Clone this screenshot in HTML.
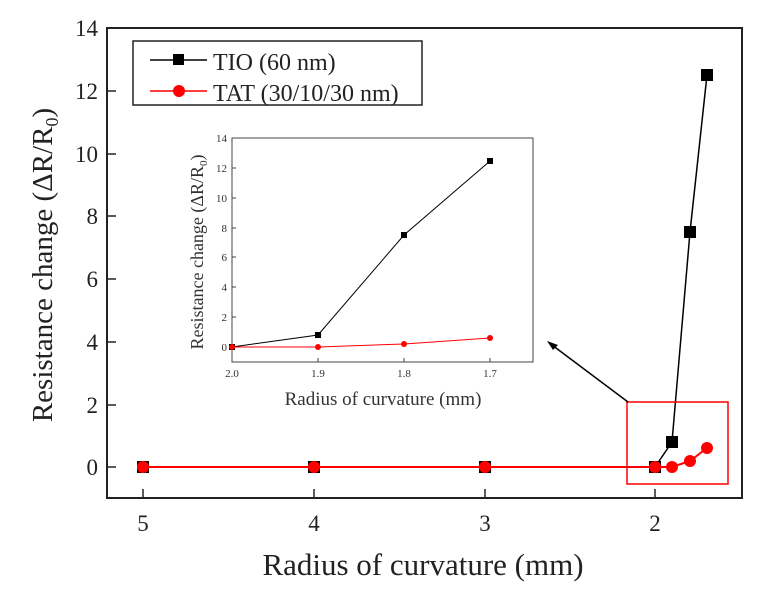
<!DOCTYPE html><html><head><style>body{margin:0;background:#fff}svg{display:block;font-family:"Liberation Serif",serif}</style></head><body>
<svg width="760" height="592" viewBox="0 0 760 592">
<rect width="760" height="592" fill="#fff"/>
<rect x="107" y="28" width="635" height="470" fill="none" stroke="#222" stroke-width="2"/>
<g stroke="#222" stroke-width="1.5">
<line x1="107" y1="28" x2="116" y2="28"/><line x1="107" y1="91" x2="116" y2="91"/><line x1="107" y1="154" x2="116" y2="154"/><line x1="107" y1="216" x2="116" y2="216"/><line x1="107" y1="279" x2="116" y2="279"/><line x1="107" y1="342" x2="116" y2="342"/><line x1="107" y1="405" x2="116" y2="405"/><line x1="107" y1="467" x2="116" y2="467"/>
<line x1="143" y1="498" x2="143" y2="489"/><line x1="314" y1="498" x2="314" y2="489"/><line x1="485" y1="498" x2="485" y2="489"/><line x1="655" y1="498" x2="655" y2="489"/>
</g>
<g font-size="23" text-anchor="end" fill="#222">
<text x="98" y="36">14</text><text x="98" y="99">12</text><text x="98" y="162">10</text><text x="98" y="224">8</text><text x="98" y="287">6</text><text x="98" y="350">4</text><text x="98" y="413">2</text><text x="98" y="475">0</text>
</g>
<g font-size="23" text-anchor="middle" fill="#222">
<text x="143" y="531">5</text><text x="314" y="531">4</text><text x="485" y="531">3</text><text x="655" y="531">2</text>
</g>
<text x="423" y="575" font-size="31" text-anchor="middle" fill="#222">Radius of curvature (mm)</text>
<text transform="translate(52,265) rotate(-90)" font-size="29" text-anchor="middle" fill="#222">Resistance change (ΔR/R<tspan font-size="18" dy="6">0</tspan><tspan dy="-6">)</tspan></text>
<polyline points="143,467 314,467 485,467 655,467 672,442 690,232 707,75" fill="none" stroke="#000" stroke-width="1.5"/>
<g fill="#000"><rect x="137" y="461" width="12" height="12"/><rect x="308" y="461" width="12" height="12"/><rect x="479" y="461" width="12" height="12"/><rect x="649" y="461" width="12" height="12"/><rect x="666" y="436" width="12" height="12"/><rect x="684" y="226" width="12" height="12"/><rect x="701" y="69" width="12" height="12"/></g>
<polyline points="143,467 314,467 485,467 655,467 672,467 690,461 707,448" fill="none" stroke="#f00" stroke-width="2"/>
<g fill="#f00"><circle cx="143" cy="467" r="6"/><circle cx="314" cy="467" r="6"/><circle cx="485" cy="467" r="6"/><circle cx="655" cy="467" r="6"/><circle cx="672" cy="467" r="6"/><circle cx="690" cy="461" r="6"/><circle cx="707" cy="448" r="6"/></g>
<rect x="627" y="402" width="101" height="82" fill="none" stroke="#f00" stroke-width="1.5"/>
<line x1="628" y1="402" x2="552" y2="345" stroke="#000" stroke-width="1.5"/>
<polygon points="547,341 558,345 553,350" fill="#000"/>
<rect x="133" y="41" width="289" height="64" fill="#fff" stroke="#222" stroke-width="1.5"/>
<line x1="150" y1="60" x2="207" y2="60" stroke="#000" stroke-width="1.5"/><rect x="173" y="54" width="11" height="11" fill="#000"/>
<line x1="150" y1="91" x2="207" y2="91" stroke="#f00" stroke-width="1.5"/><circle cx="179" cy="91" r="6" fill="#f00"/>
<text x="213" y="70" font-size="24" fill="#222">TIO (60 nm)</text>
<text x="213" y="101" font-size="24" fill="#222">TAT (30/10/30 nm)</text>
<rect x="232" y="138" width="301" height="224" fill="none" stroke="#444" stroke-width="1"/>
<g stroke="#444" stroke-width="1">
<line x1="232" y1="138" x2="236" y2="138"/><line x1="232" y1="168" x2="236" y2="168"/><line x1="232" y1="198" x2="236" y2="198"/><line x1="232" y1="228" x2="236" y2="228"/><line x1="232" y1="257" x2="236" y2="257"/><line x1="232" y1="287" x2="236" y2="287"/><line x1="232" y1="317" x2="236" y2="317"/><line x1="232" y1="347" x2="236" y2="347"/>
<line x1="318" y1="362" x2="318" y2="358"/><line x1="404" y1="362" x2="404" y2="358"/><line x1="490" y1="362" x2="490" y2="358"/>
</g>
<g font-size="11" text-anchor="end" fill="#333">
<text x="227" y="142">14</text><text x="227" y="172">12</text><text x="227" y="202">10</text><text x="227" y="232">8</text><text x="227" y="261">6</text><text x="227" y="291">4</text><text x="227" y="321">2</text><text x="227" y="351">0</text>
</g>
<g font-size="11" text-anchor="middle" fill="#333">
<text x="232" y="377">2.0</text><text x="318" y="377">1.9</text><text x="404" y="377">1.8</text><text x="490" y="377">1.7</text>
</g>
<text x="383" y="405" font-size="19" text-anchor="middle" fill="#333">Radius of curvature (mm)</text>
<text transform="translate(203,252) rotate(-90)" font-size="18" text-anchor="middle" fill="#333">Resistance change (ΔR/R<tspan font-size="11" dy="4">0</tspan><tspan dy="-4">)</tspan></text>
<polyline points="232,347 318,335 404,235 490,161" fill="none" stroke="#000" stroke-width="1"/>
<g fill="#000"><rect x="229" y="344" width="6" height="6"/><rect x="315" y="332" width="6" height="6"/><rect x="401" y="232" width="6" height="6"/><rect x="487" y="158" width="6" height="6"/></g>
<polyline points="232,347 318,347 404,344 490,338" fill="none" stroke="#f00" stroke-width="1"/>
<g fill="#f00"><circle cx="232" cy="347" r="3"/><circle cx="318" cy="347" r="3"/><circle cx="404" cy="344" r="3"/><circle cx="490" cy="338" r="3"/></g>
</svg>
</body></html>
